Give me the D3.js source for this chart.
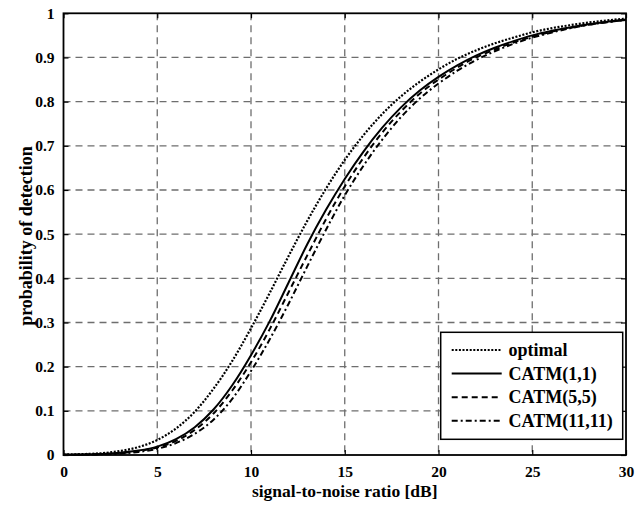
<!DOCTYPE html>
<html>
<head>
<meta charset="utf-8">
<script src="https://cdn.jsdelivr.net/npm/d3@7"></script>
<style>
  body { margin: 0; background: #fff; }
  text { font-family: "Liberation Serif", "Times New Roman", serif; font-weight: bold; }
</style>
</head>
<body>
<div id="chart"></div>
<script>
// snr in dB
const snr = d3.range(0, 31);

const optimal = [0.001, 0.002, 0.004, 0.009, 0.018, 0.034, 0.06, 0.098, 0.15, 0.213,
  0.287, 0.367, 0.45, 0.53, 0.603, 0.668, 0.724, 0.772, 0.812, 0.845,
  0.873, 0.897, 0.916, 0.932, 0.945, 0.957, 0.966, 0.973, 0.979, 0.984, 0.988];

const catm11 = [0.0005, 0.001, 0.002, 0.005, 0.01, 0.019, 0.036, 0.063, 0.103, 0.158,
  0.226, 0.303, 0.39, 0.477, 0.555, 0.625, 0.687, 0.741, 0.787, 0.825,
  0.856, 0.882, 0.904, 0.922, 0.937, 0.95, 0.96, 0.968, 0.975, 0.981, 0.986];

const catm55 = [0.0005, 0.001, 0.002, 0.004, 0.009, 0.017, 0.032, 0.057, 0.094, 0.146,
  0.21, 0.285, 0.368, 0.452, 0.534, 0.608, 0.673, 0.73, 0.778, 0.818,
  0.85, 0.877, 0.9, 0.918, 0.934, 0.947, 0.958, 0.967, 0.974, 0.98, 0.985];

const catm1111 = [0.0004, 0.0008, 0.0015, 0.003, 0.007, 0.014, 0.027, 0.048, 0.08, 0.127,
  0.19, 0.262, 0.342, 0.427, 0.51, 0.588, 0.655, 0.714, 0.765, 0.807,
  0.841, 0.87, 0.894, 0.914, 0.931, 0.945, 0.956, 0.966, 0.974, 0.98, 0.985];

const xTicks = [0, 5, 10, 15, 20, 25, 30];
const yTicks = [0, 0.1, 0.2, 0.3, 0.4, 0.5, 0.6, 0.7, 0.8, 0.9, 1];
const names = ["optimal", "CATM(1,1)", "CATM(5,5)", "CATM(11,11)"];
const dashes = ["2,1.6", null, "6,4", "6,3,2,3"];

let width = 635;
let height = 506;
let plotLeft = 63.5, plotRight = 626, plotTop = 13.3, plotBottom = 455;

const svg = d3.select("#chart")
  .append("svg")
  .attr("width", width)
  .attr("height", height);

svg.append("rect")
  .attr("width", width)
  .attr("height", height)
  .attr("fill", "white");

const x = d3.scaleLinear().domain([0, 30]).range([plotLeft, plotRight]);
const y = d3.scaleLinear().domain([0, 1]).range([plotBottom, plotTop]);

// grid
svg.append("g")
  .selectAll("line")
  .data(xTicks.slice(1, -1))
  .join("line")
  .attr("x1", d => x(d))
  .attr("x2", d => x(d))
  .attr("y1", plotTop)
  .attr("y2", plotBottom)
  .attr("stroke", "#6e6e6e")
  .attr("stroke-width", 1.3)
  .attr("stroke-dasharray", "7,5");

svg.append("g")
  .selectAll("line")
  .data(yTicks.slice(1, -1))
  .join("line")
  .attr("x1", plotLeft)
  .attr("x2", plotRight)
  .attr("y1", d => y(d))
  .attr("y2", d => y(d))
  .attr("stroke", "#6e6e6e")
  .attr("stroke-width", 1.3)
  .attr("stroke-dasharray", "7,5");

// axes, ticks pointing inward
svg.append("g")
  .attr("transform", `translate(0,${plotBottom})`)
  .call(d3.axisBottom(x).tickValues(xTicks).tickSize(-5).tickSizeOuter(0).tickPadding(11));

svg.append("g")
  .attr("transform", `translate(0,${plotTop})`)
  .call(d3.axisTop(x).tickValues(xTicks).tickSize(-5).tickSizeOuter(0).tickFormat(""));

svg.append("g")
  .attr("transform", `translate(${plotLeft},0)`)
  .call(d3.axisLeft(y).tickValues(yTicks).tickSize(-5).tickSizeOuter(0).tickPadding(9).tickFormat(d3.format("")));

svg.append("g")
  .attr("transform", `translate(${plotRight},0)`)
  .call(d3.axisRight(y).tickValues(yTicks).tickSize(-5).tickSizeOuter(0).tickFormat(""));

svg.selectAll(".domain").remove();
svg.selectAll(".tick line").attr("stroke", "black").attr("stroke-width", 1.2);
svg.selectAll(".tick text")
  .attr("fill", "black")
  .style("font-size", "15.5px")
  .style("font-family", "Liberation Serif")
  .style("font-weight", "bold");

svg.append("rect")
  .attr("x", plotLeft)
  .attr("y", plotTop)
  .attr("width", plotRight - plotLeft)
  .attr("height", plotBottom - plotTop)
  .attr("fill", "none")
  .attr("stroke", "black")
  .attr("stroke-width", 1.8);

// curves
const line = d3.line()
  .x((d, i) => x(snr[i]))
  .y(d => y(d))
  .curve(d3.curveMonotoneX);

[optimal, catm11, catm55, catm1111].forEach((s, i) => {
  svg.append("path")
    .datum(s)
    .attr("d", line)
    .attr("fill", "none")
    .attr("stroke", "black")
    .attr("stroke-width", i == 0 ? 2.2 : 2)
    .attr("stroke-dasharray", dashes[i]);
});

// legend
svg.append("rect")
  .attr("x", 440.7)
  .attr("y", 332.3)
  .attr("width", 182)
  .attr("height", 107)
  .attr("fill", "white")
  .attr("stroke", "black")
  .attr("stroke-width", 1.5);

names.forEach((n, i) => {
  let ly = 350 + i * 23.6;
  svg.append("line")
    .attr("x1", 451.7)
    .attr("x2", 501.7)
    .attr("y1", ly)
    .attr("y2", ly)
    .attr("stroke", "black")
    .attr("stroke-width", i == 0 ? 2.2 : 2)
    .attr("stroke-dasharray", dashes[i]);
  svg.append("text")
    .attr("x", 508.5)
    .attr("y", ly)
    .attr("dy", "0.34em")
    .style("font-size", "18px")
    .text(n);
});

// axis labels
svg.append("text")
  .attr("x", (plotLeft + plotRight) / 2)
  .attr("y", 496.5)
  .attr("text-anchor", "middle")
  .style("font-size", "17.5px")
  .text("signal-to-noise ratio [dB]");

svg.append("text")
  .attr("transform", "translate(32,236) rotate(-90)")
  .attr("text-anchor", "middle")
  .style("font-size", "18px")
  .text("probability of detection");
</script>
</body>
</html>
